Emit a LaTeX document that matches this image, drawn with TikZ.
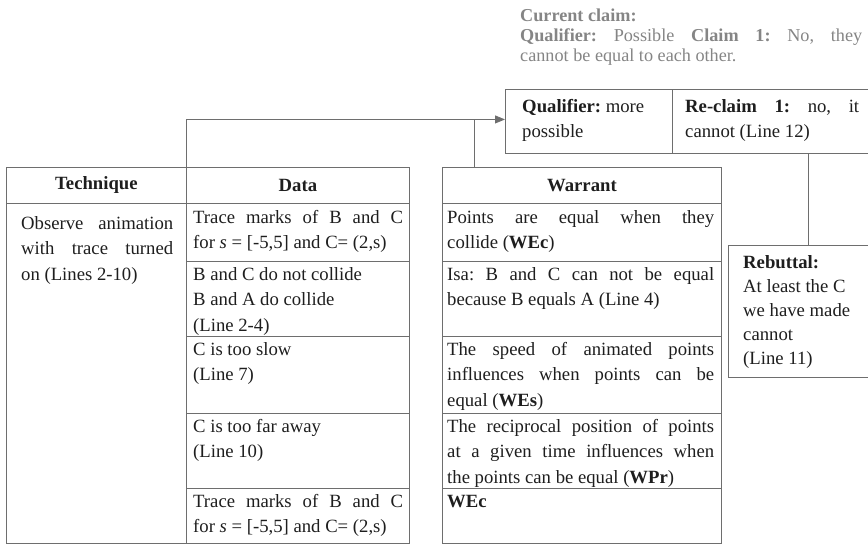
\documentclass[tikz,border=0pt]{standalone}
\usepackage{fontspec}
\setmainfont{Liberation Serif}
\usetikzlibrary{arrows.meta}
\definecolor{linec}{HTML}{6E6E6E}
\definecolor{txtc}{HTML}{1E1E1E}
\definecolor{claimc}{HTML}{858585}
\tikzset{
  cell/.style={draw=linec, line width=0.9pt, rectangle, inner sep=0pt, anchor=north west},
  txt/.style={inner sep=0pt, anchor=north west, text=txtc, align=justify,
    font=\fontsize{18.7}{25.5}\selectfont,
    execute at begin node={\frenchspacing\parindent=0pt\hyphenpenalty=10000\tolerance=10000\hbadness=10000\strut}},
  rebtxt/.style={txt, font=\fontsize{18.7}{24}\selectfont},
  curtxt/.style={txt, text=claimc, font=\fontsize{18.2}{20}\selectfont},
  hdr/.style={inner sep=0pt, anchor=center, text=txtc, font=\fontsize{18.7}{25.5}\selectfont\bfseries},
  conn/.style={draw=linec, line width=0.9pt},
}
\begin{document}
\begin{tikzpicture}[x=1pt,y=-1pt]
\useasboundingbox (0,0) rectangle (868,545);
\clip (0,0) rectangle (868,545);

% ---- left table ----
\node[cell, minimum width=180pt, minimum height=36pt] (techh) at (6,167) {};
\node[cell, minimum width=223pt, minimum height=36pt] (datah) at (186,167) {};
\node[cell, minimum width=180pt, minimum height=340pt] (techb) at (6,203) {};
\node[cell, minimum width=223pt, minimum height=58pt] (d1) at (186,203) {};
\node[cell, minimum width=223pt, minimum height=75pt] (d2) at (186,261) {};
\node[cell, minimum width=223pt, minimum height=77pt] (d3) at (186,336) {};
\node[cell, minimum width=223pt, minimum height=75pt] (d4) at (186,413) {};
\node[cell, minimum width=223pt, minimum height=55pt] (d5) at (186,488) {};

\node[hdr] (techht) at (techh.center) {Technique};
\node[hdr] (dataht) at (datah.center) {Data};

\node[txt, text width=152pt] (techt) at ([shift={(15,8)}]techb.north west)
  {Observe animation\linebreak with trace turned\linebreak on (Lines 2-10)};
\node[txt, text width=210pt] (d1t) at ([shift={(7,2)}]d1.north west)
  {Trace marks of B and C\linebreak for \textit{s} = [-5,5] and C=~(2,s)};
\node[txt, text width=210pt] (d2t) at ([shift={(7,1)}]d2.north west)
  {B and C do not collide\\B and A do collide\\(Line 2-4)};
\node[txt, text width=210pt] (d3t) at ([shift={(7,1)}]d3.north west)
  {C is too slow\\(Line 7)};
\node[txt, text width=210pt] (d4t) at ([shift={(7,1)}]d4.north west)
  {C is too far away\\(Line 10)};
\node[txt, text width=210pt] (d5t) at ([shift={(7,1)}]d5.north west)
  {Trace marks of B and C\linebreak for \textit{s} = [-5,5] and C=~(2,s)};

% ---- warrant table ----
\node[cell, minimum width=279pt, minimum height=36pt] (warh) at (442,167) {};
\node[cell, minimum width=279pt, minimum height=58pt] (w1) at (442,203) {};
\node[cell, minimum width=279pt, minimum height=75pt] (w2) at (442,261) {};
\node[cell, minimum width=279pt, minimum height=77pt] (w3) at (442,336) {};
\node[cell, minimum width=279pt, minimum height=75pt] (w4) at (442,413) {};
\node[cell, minimum width=279pt, minimum height=55pt] (w5) at (442,488) {};

\node[hdr] (warht) at (warh.center) {Warrant};
\node[txt, text width=267pt] (w1t) at ([shift={(5,2)}]w1.north west)
  {Points are equal when they\linebreak collide (\textbf{WEc})};
\node[txt, text width=267pt] (w2t) at ([shift={(5,1)}]w2.north west)
  {Isa: B and C can not be equal\linebreak because B equals A (Line 4)};
\node[txt, text width=267pt] (w3t) at ([shift={(5,1)}]w3.north west)
  {The speed of animated points\linebreak influences when points can be\linebreak equal (\textbf{WEs})};
\node[txt, text width=267pt] (w4t) at ([shift={(5,1)}]w4.north west)
  {The reciprocal position of points\linebreak at a given time influences when\linebreak the points can be equal (\textbf{WPr})};
\node[txt, text width=267pt] (w5t) at ([shift={(5,1)}]w5.north west)
  {\textbf{WEc}};

% ---- claim box ----
\node[cell, minimum width=167pt, minimum height=64pt] (qual) at (505,89) {};
\node[cell, minimum width=210pt, minimum height=64pt] (reclaim) at (672,89) {};
\node[txt, text width=140pt] (qualt) at ([shift={(17,5)}]qual.north west)
  {\textbf{Qualifier:} more\\possible};
\node[txt, text width=174pt] (reclaimt) at ([shift={(13,5)}]reclaim.north west)
  {\textbf{Re-claim 1:} no, it\linebreak cannot (Line 12)};

% ---- current claim ----
\node[curtxt, text width=342pt] (cur) at (520,7)
  {\textbf{Current claim:}\\\textbf{Qualifier:} Possible \textbf{Claim 1:} No, they\linebreak cannot be equal to each other.};

% ---- rebuttal ----
\node[cell, minimum width=160pt, minimum height=132pt] (reb) at (728,245) {};
\node[rebtxt, text width=125pt] (rebt) at ([shift={(15,7)}]reb.north west)
  {\textbf{Rebuttal:}\\At least the C\\we have made\\cannot\\(Line 11)};

% ---- connectors ----
\coordinate (qin) at ([yshift=2pt]qual.west);
\draw[conn, -{Triangle[length=10pt,width=8pt]}] (datah.north west) |- (qin);
\coordinate (wtop) at ([xshift=32pt]warh.north west);
\draw[conn] (wtop) -- (wtop |- qin);
\coordinate (rtop) at ([xshift=80pt]reb.north west);
\draw[conn] (rtop |- reclaim.south) -- (rtop);
\end{tikzpicture}
\end{document}
